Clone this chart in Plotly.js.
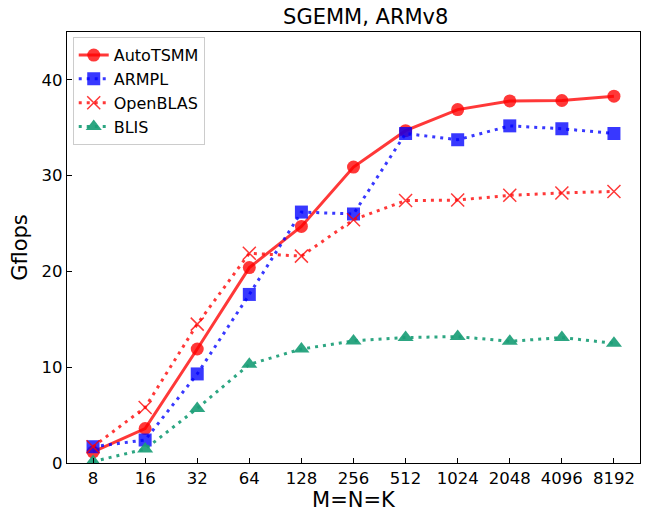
<!DOCTYPE html>
<html><head><meta charset="utf-8">
<script src="https://cdn.plot.ly/plotly-3.0.1.min.js"></script>
<style>body{margin:0;background:#fff}#c{width:659px;height:512px}</style>
</head><body><div id="c"></div>
<script>
const sizes = ["8","16","32","64","128","256","512","1024","2048","4096","8192"];
const autoTSMM = [1.15,3.6,11.9,20.4,24.7,30.9,34.7,36.9,37.8,37.85,38.3];
const armpl    = [1.7,2.4,9.3,17.6,26.2,26.0,34.4,33.75,35.2,34.9,34.4];
const openblas = [1.7,5.8,14.5,21.9,21.6,25.4,27.4,27.45,27.95,28.2,28.35];
const blis     = [0.15,1.45,5.7,10.3,11.9,12.75,13.1,13.2,12.7,13.1,12.5];
const yTicks = [0,10,20,30,40];

const red = 'rgba(255,0,0,0.78)', blue = 'rgba(0,0,255,0.78)', green = 'rgba(27,158,119,0.92)';
const dotted = '3px,5px';
const traces = [
  {x: sizes, y: autoTSMM, name: 'AutoTSMM', mode: 'lines+markers',
   line: {color: red, width: 3}, marker: {symbol: 'circle', size: 13, color: red}},
  {x: sizes, y: armpl, name: 'ARMPL', mode: 'lines+markers',
   line: {color: blue, width: 3, dash: dotted}, marker: {symbol: 'square', size: 13, color: blue}},
  {x: sizes, y: openblas, name: 'OpenBLAS', mode: 'lines+markers',
   line: {color: red, width: 3, dash: dotted}, marker: {symbol: 'x-thin', size: 13, color: red, line: {color: red, width: 1.5}}},
  {x: sizes, y: blis, name: 'BLIS', mode: 'lines+markers',
   line: {color: green, width: 3, dash: dotted}, marker: {symbol: 'triangle-up', size: 14, color: green}}
];
const layout = {
  width: 659, height: 512,
  margin: {l: 67, r: 19, t: 32, b: 49},
  paper_bgcolor: '#fff', plot_bgcolor: '#fff',
  font: {family: 'DejaVu Sans', color: '#000', size: 16},
  title: {text: 'SGEMM, ARMv8', x: 0.555, xanchor: 'center', y: 0.968, yanchor: 'middle', font: {size: 21}},
  xaxis: {type: 'category', range: [-0.5, 10.5], showline: true, mirror: true, linecolor: '#000', linewidth: 1.2,
    ticks: 'inside', ticklen: 5, tickcolor: '#000', showgrid: false, zeroline: false,
    tickfont: {size: 16.5}, title: {text: 'M=N=K', font: {size: 21}, standoff: 5}},
  yaxis: {range: [0, 45], tickvals: yTicks, showline: true, mirror: true, linecolor: '#000', linewidth: 1.2,
    ticks: 'inside', ticklen: 5, tickcolor: '#000', showgrid: false, zeroline: false,
    tickfont: {size: 16.5}, title: {text: 'Gflops', font: {size: 21}, standoff: 8}},
  legend: {x: 0.01, y: 0.988, xanchor: 'left', yanchor: 'top', bgcolor: 'rgba(255,255,255,0.8)',
    bordercolor: '#ccc', borderwidth: 1, font: {size: 16}, tracegroupgap: 0},
  showlegend: true
};
Plotly.newPlot('c', traces, layout, {displayModeBar: false, staticPlot: true});
</script></body></html>
